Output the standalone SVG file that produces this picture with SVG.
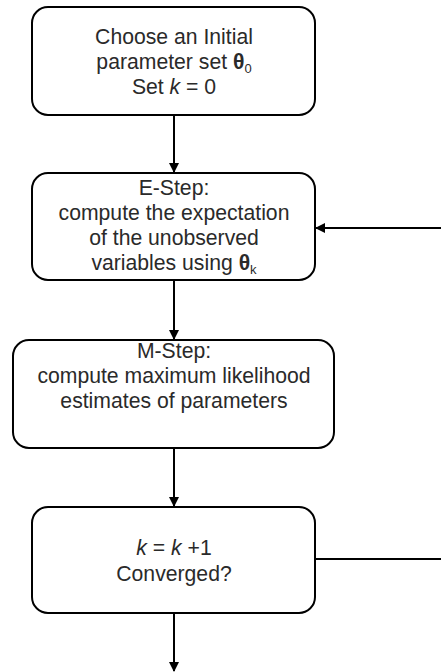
<svg xmlns="http://www.w3.org/2000/svg" width="441" height="672" viewBox="0 0 441 672">
<style>
.box{fill:#fff;stroke:#000;stroke-width:2}
.t{font-family:"Liberation Sans",Arial,sans-serif;font-size:21.2px;fill:#2a2a2a;text-anchor:middle}
.b{font-weight:bold}
.s{font-size:13px}
.c{stroke:#000;stroke-width:2;fill:none}
</style>
<defs>
<marker id="ah" markerWidth="10" markerHeight="10" refX="9" refY="5" orient="auto" markerUnits="userSpaceOnUse">
<path d="M0,0 L10,5 L0,10 z" fill="#000"/>
</marker>
</defs>
<rect width="441" height="672" fill="#fff"/>
<g id="connectors">
<line class="c" x1="174" y1="115" x2="174" y2="172" marker-end="url(#ah)"/>
<line class="c" x1="174" y1="280" x2="174" y2="339" marker-end="url(#ah)"/>
<line class="c" x1="174" y1="448" x2="174" y2="506" marker-end="url(#ah)"/>
<line class="c" x1="174" y1="613" x2="174" y2="671" marker-end="url(#ah)"/>
<line class="c" x1="441" y1="228" x2="316" y2="228" marker-end="url(#ah)"/>
<line class="c" x1="315" y1="559" x2="441" y2="559"/>
</g>
<g id="init">
<rect class="box" x="32" y="7" width="283" height="108" rx="16"/>
<text class="t" x="174" y="44">Choose an Initial</text>
<text class="t" x="174" y="69">parameter set <tspan class="b">θ</tspan><tspan class="s" dy="4">0</tspan></text>
<text class="t" x="174" y="94">Set <tspan font-style="italic">k</tspan> = 0</text>
</g>
<g id="estep">
<rect class="box" x="32" y="173" width="283" height="107" rx="16"/>
<text class="t" x="174" y="195">E-Step:</text>
<text class="t" x="174" y="220">compute the expectation</text>
<text class="t" x="174" y="245">of the unobserved</text>
<text class="t" x="174" y="270">variables using <tspan class="b">θ</tspan><tspan class="s" dy="4">k</tspan></text>
</g>
<g id="mstep">
<rect class="box" x="13" y="340" width="321" height="108" rx="16"/>
<text class="t" x="174" y="358">M-Step:</text>
<text class="t" x="174" y="383">compute maximum likelihood</text>
<text class="t" x="174" y="408">estimates of parameters</text>
</g>
<g id="converge">
<rect class="box" x="32" y="507" width="283" height="106" rx="16"/>
<text class="t" x="174" y="555"><tspan font-style="italic">k</tspan> = <tspan font-style="italic">k</tspan> +1</text>
<text class="t" x="174" y="581">Converged?</text>
</g>
</svg>
